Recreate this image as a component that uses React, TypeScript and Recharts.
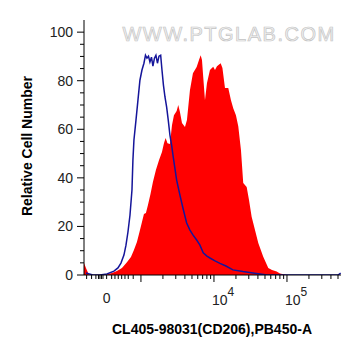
import {Area, ComposedChart, Line, XAxis, YAxis} from "recharts";

// x values are display units of the biexponential axis: 100 units per decade (10^4 -> 400)
const redX = [222, 224.7, 228.8, 253.4, 260.3, 267.1, 274, 280.8, 286.3, 290.4, 294.5, 298, 301.4, 304.1, 306.8, 309.6, 313, 316.4, 320.5, 324.7, 328.8, 331.5, 333.8, 336.3, 339.7, 342.5, 345.2, 348.9, 351.1, 353.4, 356.2, 360.3, 363, 367.1, 371.2, 376.3, 379.5, 381.8, 383.6, 385.3, 387.7, 390.4, 394.5, 399, 401.4, 404.1, 409.2, 411.6, 415.1, 419.6, 423.3, 426.4, 430.1, 433.3, 437, 440.1, 444.8, 448, 451.6, 456.2, 460.7, 467.5, 474.4, 479.5, 485.9, 490.4, 500, 574];
const redY = [4.9, 2.9, 0, 0.2, 0.8, 1.6, 2.9, 5.3, 7.4, 10.3, 13.6, 17.7, 21.8, 25.1, 25.5, 28.8, 33.3, 38.3, 43.2, 47.3, 50.6, 54.3, 56.4, 54.3, 53.9, 61.7, 65.8, 67.5, 70, 67.1, 62.6, 60.9, 63.8, 76.1, 83.1, 85.6, 88.5, 90.5, 88.5, 81.5, 72, 79, 84.4, 85.7, 84.4, 86, 87.2, 85.2, 77, 77, 72, 68.7, 65.8, 61.3, 51.4, 37.9, 36.2, 30.9, 24, 18.5, 13.2, 7.5, 2.9, 2.1, 1.4, 0.6, 0, 0];

const blueX = [224.7, 234, 243.8, 253.4, 263, 268.5, 272.6, 276.7, 279.5, 282.2, 285, 287.7, 289, 290.4, 293.2, 295.9, 298.6, 301.4, 304.1, 306.2, 308.2, 310.3, 312.3, 314.4, 316.4, 318.5, 320.5, 322.6, 324.7, 327, 328.8, 330.8, 332.9, 335.2, 337.4, 339.7, 342, 344.2, 348.9, 353.4, 357.5, 362.6, 367.1, 371.2, 376.3, 380.8, 385.3, 390.4, 394.5, 401.4, 408.2, 416.4, 426, 439.7, 453.4, 472.6, 520, 570, 573.5];
const blueY = [0.8, 0, 0, 0.4, 1.6, 2.9, 4.9, 8.2, 12.3, 17.7, 24.7, 35, 47.3, 55.6, 63.8, 72, 80.2, 84.4, 87.2, 90.5, 89.3, 90.1, 87.7, 89.7, 86, 89.3, 90.5, 87.2, 90.1, 90.5, 84.4, 78.2, 73.3, 69.1, 63.8, 57.6, 53.5, 48.6, 39.1, 32.9, 27.6, 21.4, 18.5, 16.5, 14.4, 12.3, 9.1, 7.8, 7, 5.8, 4.8, 3.7, 2.1, 1.4, 0.8, 0, 0, 0, 0.8];

const yTicks = [0, 5, 10, 15, 20, 25, 30, 35, 40, 45, 50, 55, 60, 65, 70, 75, 80, 85, 90, 95, 100];
const yMajor = [0, 20, 40, 60, 80, 100];

const xMajor = [300, 400, 500];
const xLowTicks = [225.6, 232.4, 238.3, 241.8, 243.8, 245.9, 248, 253, 259.9, 264.4, 268.9, 273.6, 278.1, 282.6, 289.4];
const xLogTicks = [
    ...[2, 3, 4, 5, 6, 7, 8, 9].map((k) => 300 + 100 * Math.log10(k)),
    ...[2, 3, 4, 5, 6, 7, 8, 9].map((k) => 400 + 100 * Math.log10(k)),
    ...[2, 3, 4, 5].map((k) => 500 + 100 * Math.log10(k)),
];
const xTicks = [...xLowTicks, ...xMajor, ...xLogTicks].sort((a, b) => a - b);
const xLabels: Record<number, string> = {253: "0", 400: "4", 500: "5"};

const redData = redX.map((u, i) => ({u, v: redY[i]}));
const blueData = blueX.map((u, i) => ({u, v: blueY[i]}));

const font = "'Liberation Sans', Arial, sans-serif";

// built-in tick lines are 4px; majors get 3px more here
const XTick = (props: any) => {
    const {x, y, payload} = props;
    const v = payload.value;
    const major = xMajor.includes(v);
    const label = xLabels[v];
    return (
        <g>
            {major && <line x1={x} x2={x} y1={y} y2={y + 3} stroke="#000" strokeWidth={1}/>}
            {label === "0" && (
                <text x={x} y={y + 24} textAnchor="middle" fontSize={14} fill="#222" fontFamily={font}>0</text>
            )}
            {label && label !== "0" && (
                <text x={x - 2} y={y + 26} fontSize={14} fill="#222" fontFamily={font}>
                    10<tspan dy={-9} fontSize={12}>{label}</tspan>
                </text>
            )}
        </g>
    );
};

const YTick = (props: any) => {
    const {x, y, payload} = props;
    const v = payload.value;
    const major = yMajor.includes(v);
    return (
        <g>
            {major && <line x1={x} x2={x - 3} y1={y} y2={y} stroke="#000" strokeWidth={1}/>}
            {major && (
                <text x={x - 7} y={y + 5} textAnchor="end" fontSize={14} fill="#222" fontFamily={font}>{v}</text>
            )}
        </g>
    );
};

const App = (): React.JSX.Element => {
    return (
        <ComposedChart width={353} height={340} margin={{top: 12, right: 20, bottom: 0, left: 0}}>
            <text x={221} y={33} textAnchor="middle" fontSize={20} letterSpacing={1.5} fill="#f2f2f2"
                  stroke="#c4c4c4" strokeWidth={0.7} fontFamily={font}>WWW.PTGLAB.COM</text>
            <XAxis dataKey="u" type="number" domain={[222, 574]} allowDataOverflow ticks={xTicks} interval={0}
                   tick={<XTick/>} tickLine={{stroke: "#000"}} tickSize={4} tickMargin={0} height={73}
                   axisLine={{stroke: "#000"}}/>
            <XAxis xAxisId="top" orientation="top" type="number" domain={[222, 574]} height={0} tick={false}
                   tickLine={false} axisLine={{stroke: "#000"}}/>
            <YAxis type="number" domain={[0, 105]} allowDataOverflow ticks={yTicks} interval={0}
                   tick={<YTick/>} tickLine={{stroke: "#000"}} tickSize={4} tickMargin={0} width={76}
                   axisLine={{stroke: "#000"}}/>
            <YAxis yAxisId="right" orientation="right" type="number" domain={[0, 105]} width={0} tick={false}
                   tickLine={false} axisLine={{stroke: "#000"}}/>
            <Area data={redData} dataKey="v" type="linear" fill="#ff0000" fillOpacity={1} stroke="none"
                  isAnimationActive={false}/>
            <Line data={blueData} dataKey="v" type="linear" stroke="#15159a" strokeWidth={1.5} dot={false}
                  isAnimationActive={false}/>
            <text x={19} y={138} transform="rotate(-90 19 138)" textAnchor="middle" dominantBaseline="central"
                  fontSize={14} fontWeight="bold" fill="#000" fontFamily={font}>Relative Cell Number</text>
            <text x={204} y={326} textAnchor="middle" fontSize={14} fontWeight="bold" fill="#000"
                  fontFamily={font}>CL405-98031(CD206),PB450-A</text>
        </ComposedChart>
    );
};

export default App;
